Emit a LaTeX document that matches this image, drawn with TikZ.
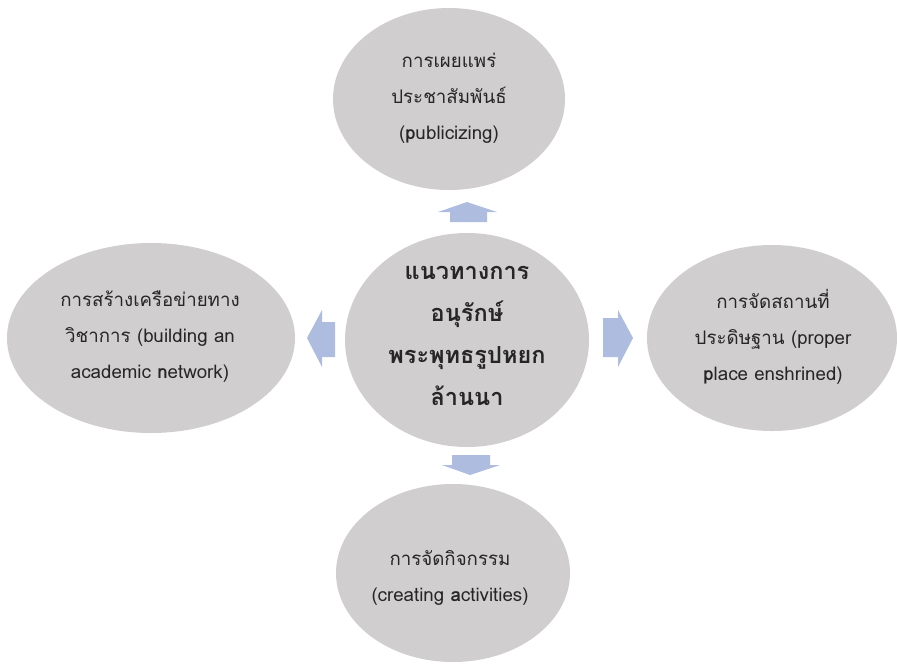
\documentclass[tikz,border=0pt]{standalone}
\usepackage{fontspec}
\newfontfamily\thaifont[Script=Thai]{Loma}
\usetikzlibrary{shapes.geometric}
\definecolor{ellgray}{RGB}{208,206,206}
\definecolor{arrblue}{RGB}{174,188,224}
\definecolor{txt}{RGB}{38,38,38}
\tikzset{
  bubble/.style={ellipse, fill=ellgray, draw=none, inner sep=0pt},
  lbl/.style={align=center, text=txt, font=\thaifont\fontsize{18.7}{36}\selectfont},
  mainlbl/.style={align=center, text=txt, font=\thaifont\bfseries\fontsize{23.5}{42}\selectfont},
  blockarrow/.style={fill=arrblue, draw=none}
}
\begin{document}
\begin{tikzpicture}[x=1pt,y=-1pt]
\useasboundingbox (0,0) rectangle (897,665);
% ellipses
\node[bubble, minimum width=232pt, minimum height=182pt] (top) at (449,99) {};
\node[bubble, minimum width=244pt, minimum height=214pt] (mid) at (467,340) {};
\node[bubble, minimum width=288pt, minimum height=190pt] (left) at (151,338) {};
\node[bubble, minimum width=250pt, minimum height=186pt] (right) at (772,338) {};
\node[bubble, minimum width=234pt, minimum height=178pt] (bot) at (453,573) {};
% texts
\node[lbl] (toptxt) at (449,98) {การเผยแพร่\\ประชาสัมพันธ์\\(\textbf{p}ublicizing)};
\node[lbl] (lefttxt) at (150,337) {การสร้างเครือข่ายทาง\\วิชาการ (building an\\academic \textbf{n}etwork)};
\node[lbl] (righttxt) at (773,337) {การจัดสถานที่\\ประดิษฐาน (proper\\\textbf{p}lace enshrined)};
\node[lbl] (bottxt) at (450,578) {การจัดกิจกรรม\\(creating \textbf{a}ctivities)};
\node[mainlbl] (midtxt) at (467,336) {แนวทางการ\\อนุรักษ์\\พระพุทธรูปหยก\\ล้านนา};
% block arrows
\fill[blockarrow] (450,222) -- (487,222) -- (487,212) -- (497,212) -- (467,202) -- (438,212) -- (450,212) -- cycle;
\fill[blockarrow] (335,322) -- (335,357) -- (322,357) -- (322,367) -- (307,338) -- (322,310) -- (322,322) -- cycle;
\fill[blockarrow] (603,318) -- (603,357) -- (618,357) -- (618,367) -- (633,338) -- (618,310) -- (618,318) -- cycle;
\fill[blockarrow] (452,455) -- (490,455) -- (490,465) -- (500,465) -- (470,475) -- (442,465) -- (452,465) -- cycle;
\end{tikzpicture}
\end{document}
